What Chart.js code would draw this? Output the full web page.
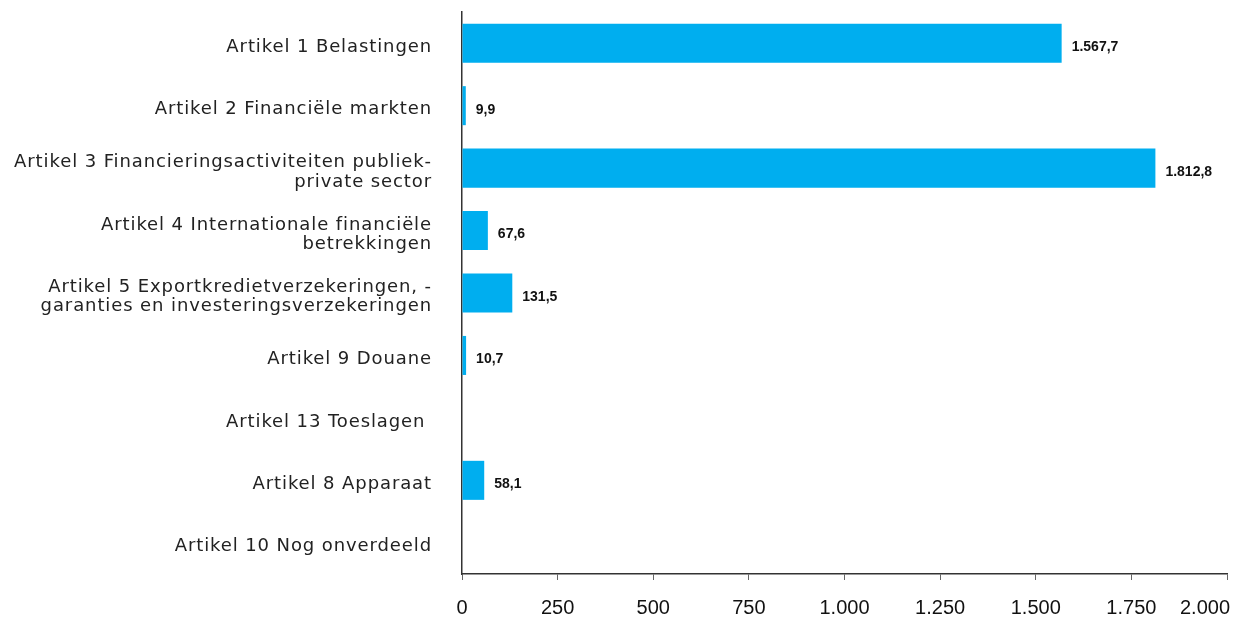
<!DOCTYPE html>
<html>
<head>
<meta charset="utf-8">
<script src="https://cdn.jsdelivr.net/npm/chart.js@4/dist/chart.umd.min.js"></script>
<style>
html,body{margin:0;padding:0;background:#fff;}
#c{display:block;}
</style>
</head>
<body>
<canvas id="c" width="1245" height="619"></canvas>
<script>
const categories = [
  ["Artikel 1 Belastingen"],
  ["Artikel 2 Financiële markten"],
  ["Artikel 3 Financieringsactiviteiten publiek-", "private sector"],
  ["Artikel 4 Internationale financiële", "betrekkingen"],
  ["Artikel 5 Exportkredietverzekeringen, -", "garanties en investeringsverzekeringen"],
  ["Artikel 9 Douane"],
  ["Artikel 13 Toeslagen "],
  ["Artikel 8 Apparaat"],
  ["Artikel 10 Nog onverdeeld"]
];
const values = [1567.7, 9.9, 1812.8, 67.6, 131.5, 10.7, null, 58.1, null];
const xTicks = [0, 250, 500, 750, 1000, 1250, 1500, 1750, 2000];

function fmtNL(v, dec) {
  const s = v.toFixed(dec);
  let [intPart, frac] = s.split('.');
  intPart = intPart.replace(/\B(?=(\d{3})+(?!\d))/g, '.');
  return frac ? intPart + ',' + frac : intPart;
}

const axisTweaks = {
  id: 'axisTweaks',
  afterLayout(chart) {
    const y = chart.scales.y;
    if (!y._patched) {
      const origY = y.drawLabels;
      y.drawLabels = function (area) {
        const ctx = this.ctx;
        ctx.save();
        ctx.letterSpacing = '0.9px';
        origY.call(this, area);
        ctx.restore();
      };
      y._patched = true;
    }
    const x = chart.scales.x;
    if (!x._patched) {
      const origX = x._computeLabelItems;
      x._computeLabelItems = function (area) {
        const items = origX.call(this, area);
        const last = items[items.length - 1];
        if (last) {
          last.options.textAlign = 'right';
          last.options.translation = [this.right + 3, last.options.translation[1]];
        }
        return items;
      };
      x._patched = true;
    }
  }
};

const labelPlugin = {
  id: 'barLabels',
  afterDatasetsDraw(chart) {
    const ctx = chart.ctx;
    const meta = chart.getDatasetMeta(0);
    ctx.save();
    ctx.font = 'bold 14px "Liberation Sans", Arial, sans-serif';
    ctx.fillStyle = '#111';
    ctx.textAlign = 'left';
    ctx.textBaseline = 'middle';
    meta.data.forEach((bar, i) => {
      const v = values[i];
      if (v === null || v === undefined) return;
      ctx.fillText(fmtNL(v, 1), bar.x + 10, bar.y + 4);
    });
    ctx.restore();
  }
};

new Chart(document.getElementById('c'), {
  type: 'bar',
  data: {
    labels: categories,
    datasets: [{
      data: values,
      backgroundColor: '#00AEEF',
      borderWidth: 0,
      barPercentage: 0.625,
      categoryPercentage: 1.0
    }]
  },
  options: {
    indexAxis: 'y',
    responsive: false,
    animation: false,
    layout: { padding: { left: 0, right: 18, top: 12, bottom: 0 } },
    plugins: { legend: { display: false }, tooltip: { enabled: false } },
    scales: {
      x: {
        min: 0, max: 2000,
        afterBuildTicks(axis) { axis.ticks = xTicks.map(v => ({ value: v })); },
        afterFit(axis) { axis.height = 45; axis.paddingLeft = 0; axis.paddingRight = 0; },
        grid: { drawOnChartArea: false, drawTicks: true, tickLength: 6, color: '#666', lineWidth: 1 },
        border: { display: true, color: '#333', width: 1.5 },
        ticks: {
          color: '#111',
          padding: 16,
          font: { family: '"Liberation Sans", Arial, sans-serif', size: 20 },
          callback: (v) => fmtNL(v, 0),
          maxRotation: 0, autoSkip: false
        }
      },
      y: {
        afterFit(axis) { axis.width = 462; axis.paddingTop = 0; axis.paddingBottom = 0; },
        grid: { display: false, drawTicks: false },
        border: { display: true, color: '#333', width: 1.5 },
        ticks: {
          color: '#222',
          padding: 30,
          labelOffset: 4,
          font: { family: '"DejaVu Sans", "Liberation Sans", sans-serif', size: 18, lineHeight: 1.08 },
          autoSkip: false
        }
      }
    }
  },
  plugins: [axisTweaks, labelPlugin]
});
</script>
</body>
</html>
